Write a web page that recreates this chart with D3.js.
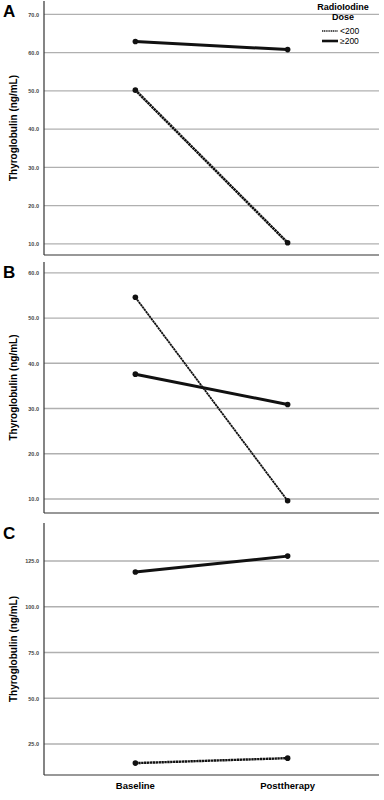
<!DOCTYPE html>
<html>
<head>
<meta charset="utf-8">
<script src="https://cdn.jsdelivr.net/npm/d3@7"></script>
<style>
  body { margin: 0; background: #fff; }
  svg { display: block; font-family: "Liberation Sans", Arial, sans-serif; }
</style>
</head>
<body>
<div id="chart"></div>
<script>
// Thyroglobulin baseline vs posttherapy, by radioiodine dose
const timepoints = ["Baseline", "Posttherapy"];
const doses = ["<200", "≥200"];

const lowA = [50.2, 10.3];
const highA = [62.9, 60.8];
const lowB = [54.6, 9.6];
const highB = [37.6, 30.9];
const lowC = [14.6, 17.3];
const highC = [119.0, 127.7];

const ticksA = [10, 20, 30, 40, 50, 60, 70];
const ticksB = [10, 20, 30, 40, 50, 60];
const ticksC = [25, 50, 75, 100, 125];

{
    const W = 384, H = 800;
    const left = 44, right = 379;

    const panels = [
        { letter: "A", low: lowA, high: highA, ticks: ticksA, domain: [7.1, 73.5], top: 1, bottom: 255, lowWidth: 2.6 },
        { letter: "B", low: lowB, high: highB, ticks: ticksB, domain: [6.9, 62.4], top: 262, bottom: 513, lowWidth: 1.8 },
        { letter: "C", low: lowC, high: highC, ticks: ticksC, domain: [8.1, 145.8], top: 523, bottom: 775, lowWidth: 2.4 }
    ];

    const svg = d3.select("#chart").append("svg")
        .attr("width", W)
        .attr("height", H);

    const x = d3.scalePoint().domain(timepoints).range([left, right]).padding(0.6);

    const line = d3.line()
        .x((d, i) => x(timepoints[i]))
        .y(d => d.y);

    panels.forEach(p => {
        const y = d3.scaleLinear().domain(p.domain).range([p.bottom, p.top]);
        const g = svg.append("g");

        // gridlines
        g.selectAll(".grid")
            .data(p.ticks)
            .join("line")
            .attr("x1", left).attr("x2", right)
            .attr("y1", d => y(d)).attr("y2", d => y(d))
            .attr("stroke", "#b0b0b0")
            .attr("stroke-width", 1.4);

        // tick labels
        const axis = g.append("g")
            .attr("transform", `translate(${left - 2},0)`)
            .call(d3.axisLeft(y).tickValues(p.ticks).tickSize(0).tickFormat(d3.format(".1f")));
        axis.select(".domain").remove();
        axis.selectAll("text")
            .attr("fill", "#444")
            .style("font-size", "5.5px")
            .style("font-weight", "bold");

        // axis lines
        g.append("line")
            .attr("x1", left).attr("x2", left)
            .attr("y1", p.top).attr("y2", p.bottom)
            .attr("stroke", "#333").attr("stroke-width", 1.2);
        g.append("line")
            .attr("x1", left).attr("x2", right)
            .attr("y1", p.bottom).attr("y2", p.bottom)
            .attr("stroke", "#333").attr("stroke-width", 1.2);

        // y title
        g.append("text")
            .attr("transform", `translate(17,${(p.top + p.bottom) / 2}) rotate(-90)`)
            .attr("text-anchor", "middle")
            .style("font-size", "10px")
            .style("font-weight", "bold")
            .text("Thyroglobulin (ng/mL)");

        // panel letter
        g.append("text")
            .attr("x", 3).attr("y", p.top + 16)
            .style("font-size", "17px")
            .style("font-weight", "bold")
            .text(p.letter);

        // series
        const series = [
            { dose: doses[0], vals: p.low, width: p.lowWidth, dash: "2.4,0.5" },
            { dose: doses[1], vals: p.high, width: 3, dash: null }
        ];
        series.forEach(s => {
            const pts = s.vals.map(v => ({ y: y(v) }));
            g.append("path")
                .attr("d", line(pts))
                .attr("fill", "none")
                .attr("stroke", "#111")
                .attr("stroke-width", s.width)
                .attr("stroke-dasharray", s.dash);
            g.selectAll(null)
                .data(s.vals)
                .join("circle")
                .attr("cx", (d, i) => x(timepoints[i]))
                .attr("cy", d => y(d))
                .attr("r", 2.8)
                .attr("fill", "#111");
        });
    });

    // x labels
    svg.selectAll(".xlab")
        .data(timepoints)
        .join("text")
        .attr("x", d => x(d))
        .attr("y", 789)
        .attr("text-anchor", "middle")
        .style("font-size", "9.5px")
        .style("font-weight", "bold")
        .text(d => d);

    // legend
    const legend = svg.append("g");
    legend.append("text")
        .attr("x", 343).attr("y", 10)
        .attr("text-anchor", "middle")
        .style("font-size", "9px").style("font-weight", "bold")
        .text("RadioIodine");
    legend.append("text")
        .attr("x", 343).attr("y", 20)
        .attr("text-anchor", "middle")
        .style("font-size", "9px").style("font-weight", "bold")
        .text("Dose");
    doses.forEach((d, i) => {
        const ly = 31 + i * 10;
        legend.append("line")
            .attr("x1", 322).attr("x2", 338)
            .attr("y1", ly).attr("y2", ly)
            .attr("stroke", i === 0 ? "#555" : "#111")
            .attr("stroke-width", i === 0 ? 2 : 2.6)
            .attr("stroke-dasharray", i === 0 ? "1.2,0.6" : null);
        legend.append("text")
            .attr("x", 340).attr("y", ly + 3)
            .style("font-size", "8.5px")
            .text(d);
    });
}
</script>
</body>
</html>
